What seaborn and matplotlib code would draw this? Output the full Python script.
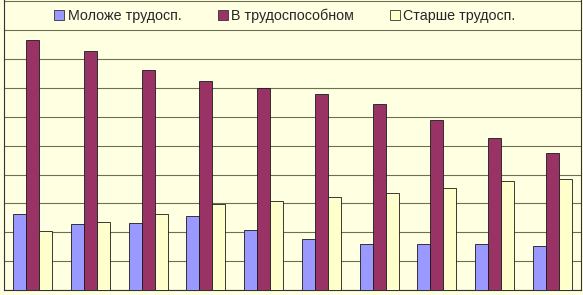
import numpy as np
import pandas as pd
import matplotlib.pyplot as plt
import seaborn as sns

# groups (axis labels are cut off in the source picture)
groups = ['1', '2', '3', '4', '5', '6', '7', '8', '9', '10']
series = ['Моложе трудосп.', 'В трудоспособном', 'Старше трудосп.']

younger = [2.64, 2.28, 2.32, 2.55, 2.09, 1.78, 1.61, 1.58, 1.61, 1.54]
working = [8.68, 8.28, 7.61, 7.25, 6.99, 6.78, 6.44, 5.89, 5.27, 4.76]
older = [2.05, 2.36, 2.64, 2.97, 3.10, 3.22, 3.37, 3.52, 3.77, 3.86]

colors = ['#9999FF', '#993366', '#FFFFCC']

df = pd.DataFrame({
    'group': groups * 3,
    'series': np.repeat(series, len(groups)),
    'value': younger + working + older,
})

sns.set_style('white')
plt.rcParams['font.family'] = ['Liberation Sans', 'DejaVu Sans']

fig = plt.figure(figsize=(5.83, 2.95), dpi=100)
fig.patch.set_facecolor('#FFFFE2')
ax = fig.add_axes([4 / 583, 5 / 295, 577 / 583, 290 / 295])
ax.set_facecolor('#FFFFE2')

sns.barplot(data=df, x='group', y='value', hue='series', palette=colors,
            width=0.675, saturation=1, edgecolor='#1a1a1a', linewidth=0.6,
            ax=ax, zorder=3)

ax.set_xlim(-0.5, 9.5)
ax.set_ylim(0, 10.05)
ax.set_yticks(np.arange(0, 11))
ax.yaxis.grid(True, color='#6e6e55', linewidth=0.8, zorder=0)
ax.set_axisbelow(True)

# ticks between groups, labels are outside the picture
ax.set_xticks(np.arange(-0.5, 10, 1))
ax.tick_params(axis='x', length=6, width=0.8, color='#333333', labelbottom=False)
ax.tick_params(axis='y', length=5, width=0.8, color='#6e6e55', labelleft=False)
ax.set_xlabel('')
ax.set_ylabel('')

for s in ['left', 'bottom', 'right']:
    ax.spines[s].set_color('#333333')
    ax.spines[s].set_linewidth(0.8)
ax.spines['top'].set_visible(False)

leg = ax.legend(loc='upper center', bbox_to_anchor=(0.487, 1.0), ncol=3,
                frameon=False, fontsize=10.3, handlelength=0.7, handleheight=0.7,
                handletextpad=0.25, columnspacing=2.5, borderaxespad=0.2)
for h in leg.legend_handles:
    h.set_edgecolor('#333333')
    h.set_linewidth(0.6)

fig.savefig('out.png', dpi=100, facecolor=fig.get_facecolor())
